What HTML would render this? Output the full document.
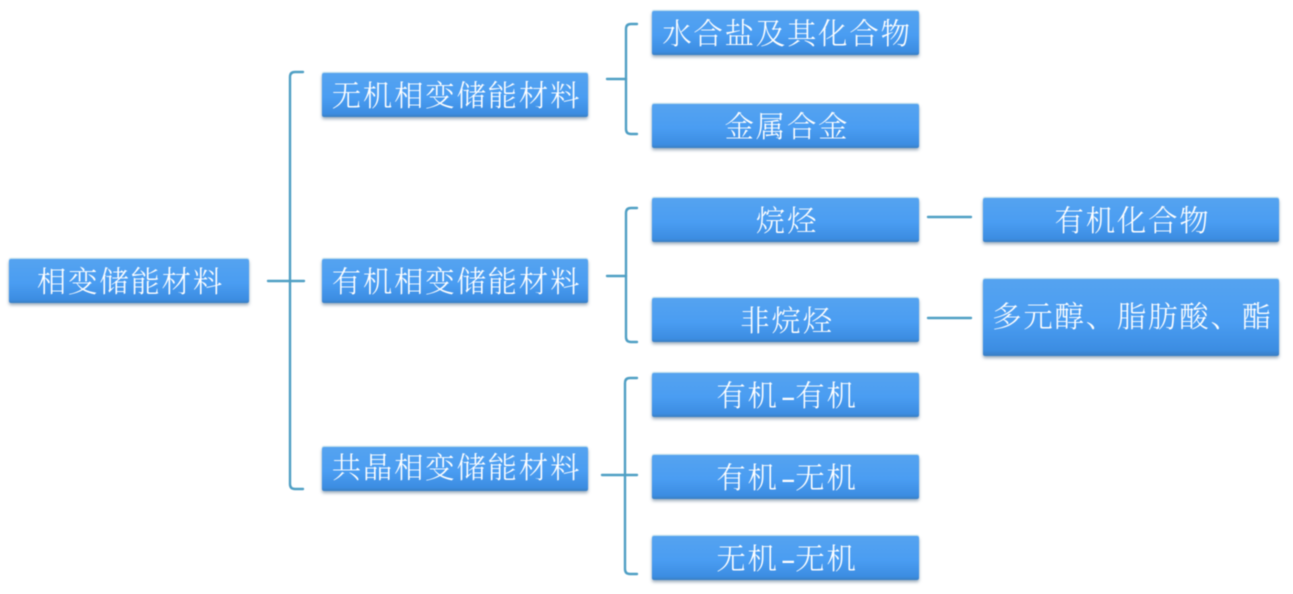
<!DOCTYPE html>
<html lang="zh">
<head>
<meta charset="utf-8">
<style>
html,body{margin:0;padding:0;background:#fff}
#c{position:relative;width:1293px;height:594px;overflow:hidden;background:#fff;filter:blur(.55px)}
.b{position:absolute;box-sizing:border-box;border-radius:2px;
background:linear-gradient(180deg,#55a3f0 0%,#4a9df2 55%,#3c8de2 92%,#3a7fc4 100%);
box-shadow:0 2px 3px rgba(70,100,130,.55),0 -1px 1px rgba(120,190,220,.5);
color:#fff;text-align:center;white-space:nowrap;
font-family:"Liberation Serif","Noto Serif CJK SC",serif;font-weight:300;font-size:29.4px;letter-spacing:1.8px;line-height:42px;padding-top:3px;text-indent:3px}
.d{display:inline-block;margin:0 1px;transform:scaleX(1.5)}
svg{position:absolute;left:0;top:0}
</style>
</head>
<body>
<div id="c">
<svg width="1293" height="594" fill="none" stroke-linecap="round">
<g stroke="#4f9fc4" stroke-width="2.4">
<path d="M303 72H295Q290 72 290 77V484Q290 489 295 489H303"/>
<path d="M268 281H304"/>
<path d="M637 24H631Q626 24 626 29V129Q626 134 631 134H637"/>
<path d="M607 79H626"/>
<path d="M637 208H631Q626 208 626 213V337Q626 342 631 342H637"/>
<path d="M607 276H626"/>
<path d="M637 378H630Q625 378 625 383V569Q625 574 630 574H637"/>
<path d="M602 475H637"/>
<path d="M928 217H971"/>
<path d="M928 318H971"/>
</g>
</svg>
<div class="b" style="left:9px;top:259px;width:240px;height:44px">相变储能材料</div>
<div class="b" style="left:322px;top:73px;width:266px;height:44px">无机相变储能材料</div>
<div class="b" style="left:322px;top:259px;width:266px;height:44px">有机相变储能材料</div>
<div class="b" style="left:322px;top:447px;width:266px;height:44px;padding-top:1px">共晶相变储能材料</div>
<div class="b" style="left:652px;top:11px;width:267px;height:44px">水合盐及其化合物</div>
<div class="b" style="left:652px;top:104px;width:267px;height:44px">金属合金</div>
<div class="b" style="left:652px;top:198px;width:267px;height:44px">烷烃</div>
<div class="b" style="left:652px;top:298px;width:267px;height:44px">非烷烃</div>
<div class="b" style="left:652px;top:373px;width:267px;height:44px">有机<span class="d">-</span>有机</div>
<div class="b" style="left:652px;top:455px;width:267px;height:44px">有机<span class="d">-</span>无机</div>
<div class="b" style="left:652px;top:536px;width:267px;height:44px">无机<span class="d">-</span>无机</div>
<div class="b" style="left:983px;top:198px;width:296px;height:44px">有机化合物</div>
<div class="b" style="left:983px;top:279px;width:296px;height:77px;line-height:73px">多元醇、脂肪酸、酯</div>
</div>
</body>
</html>
